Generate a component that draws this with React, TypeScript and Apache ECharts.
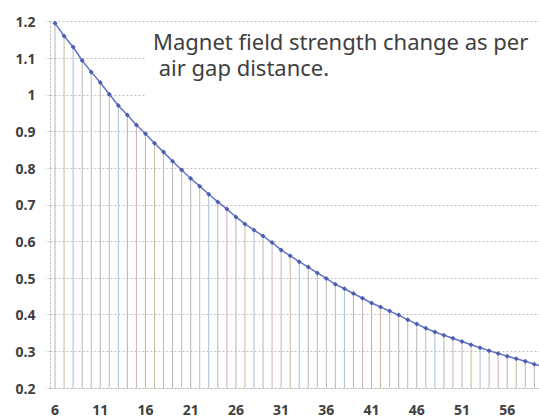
import React, { useEffect, useRef } from "react";
import * as echarts from "echarts";

const categories: string[] = [
  "6", "7", "8", "9", "10", "11", "12", "13", "14", "15",
  "16", "17", "18", "19", "20", "21", "22", "23", "24", "25",
  "26", "27", "28", "29", "30", "31", "32", "33", "34", "35",
  "36", "37", "38", "39", "40", "41", "42", "43", "44", "45",
  "46", "47", "48", "49", "50", "51", "52", "53", "54", "55",
  "56", "57", "58", "59", "60",
];

const fieldStrength: number[] = [
  1.196, 1.161, 1.131, 1.094, 1.063, 1.034, 1.002, 0.971, 0.945, 0.918,
  0.894, 0.868, 0.844, 0.819, 0.795, 0.772, 0.751, 0.729, 0.708, 0.689,
  0.667, 0.648, 0.631, 0.615, 0.597, 0.577, 0.561, 0.545, 0.53, 0.514,
  0.499, 0.483, 0.471, 0.458, 0.445, 0.432, 0.421, 0.41, 0.399, 0.386,
  0.375, 0.363, 0.353, 0.344, 0.336, 0.327, 0.318, 0.31, 0.302, 0.294,
  0.287, 0.28, 0.273, 0.265, 0.258,
];

const yMin = 0.2;
const yMax = 1.2;
const yStep = 0.1;

const titleLines: string[] = [
  "Magnet field strength change as per",
  " air gap distance.",
];

const dropColors = ["#b6b6b6", "#c8bb9c", "#aabdd5", "#b6b6b6", "#cdaec2"];

export default function App() {
  const ref = useRef<HTMLDivElement>(null);

  useEffect(() => {
    if (!ref.current) return;
    const chart = echarts.init(ref.current, null, { renderer: "svg" });
    const gridColor = "#c2c2c2";
    const labelStyle = {
      color: "#404040",
      fontSize: 14,
      fontWeight: "bold" as const,
      fontFamily: "'Noto Sans', sans-serif",
    };
    chart.setOption({
      animation: false,
      backgroundColor: "#ffffff",
      grid: { left: 50.5, right: 12.1, top: 21.7, bottom: 31 },
      xAxis: {
        type: "category",
        data: categories,
        boundaryGap: true,
        axisLine: { show: true, lineStyle: { color: gridColor, type: [2, 2], width: 1 } },
        axisTick: { show: false },
        axisLabel: { ...labelStyle, interval: 4, margin: 14 },
        splitLine: { show: false },
      },
      yAxis: {
        type: "value",
        min: yMin,
        max: yMax,
        interval: yStep,
        axisLine: { show: true, lineStyle: { color: gridColor, type: [2, 2], width: 1 } },
        axisTick: { show: true, length: 5, lineStyle: { color: gridColor, type: [2, 2] } },
        axisLabel: { ...labelStyle, margin: 15 },
        splitLine: { show: true, lineStyle: { color: gridColor, type: [2, 2], width: 1 } },
      },
      series: [
        {
          type: "custom",
          z: 1,
          silent: true,
          data: fieldStrength.map((v, i) => [i, v]),
          renderItem: (params: any, api: any) => {
            const i = api.value(0);
            const v = api.value(1);
            const top = api.coord([i, v]);
            const bot = api.coord([i, yMin]);
            return {
              type: "line",
              shape: { x1: top[0], y1: top[1], x2: bot[0], y2: bot[1] },
              style: { stroke: dropColors[params.dataIndex % dropColors.length], lineWidth: 1 },
            };
          },
        },
        {
          type: "line",
          z: 2,
          data: fieldStrength,
          symbol: "diamond",
          symbolSize: 5,
          showSymbol: true,
          lineStyle: { color: "#6374c2", width: 1.5 },
          itemStyle: { color: "#4c5db3" },
        },
      ],
      graphic: [
        {
          type: "rect",
          left: 145,
          top: 25,
          shape: { width: 420, height: 74 },
          style: { fill: "#ffffff" },
          z: 10,
        },
        {
          type: "text",
          x: 153,
          y: 28,
          z: 11,
          style: {
            text: titleLines.join("\n"),
            fontSize: 22,
            fontFamily: "'Noto Sans', sans-serif",
            fill: "#404040",
            lineHeight: 26,
            verticalAlign: "top",
            align: "left",
          },
        },
      ],
    });
    return () => chart.dispose();
  }, []);

  return (
    <div style={{ position: "fixed", left: 0, top: 0, width: 539, height: 419, overflow: "hidden", background: "#fff" }}>
      <div ref={ref} style={{ width: 560, height: 419 }} />
    </div>
  );
}
